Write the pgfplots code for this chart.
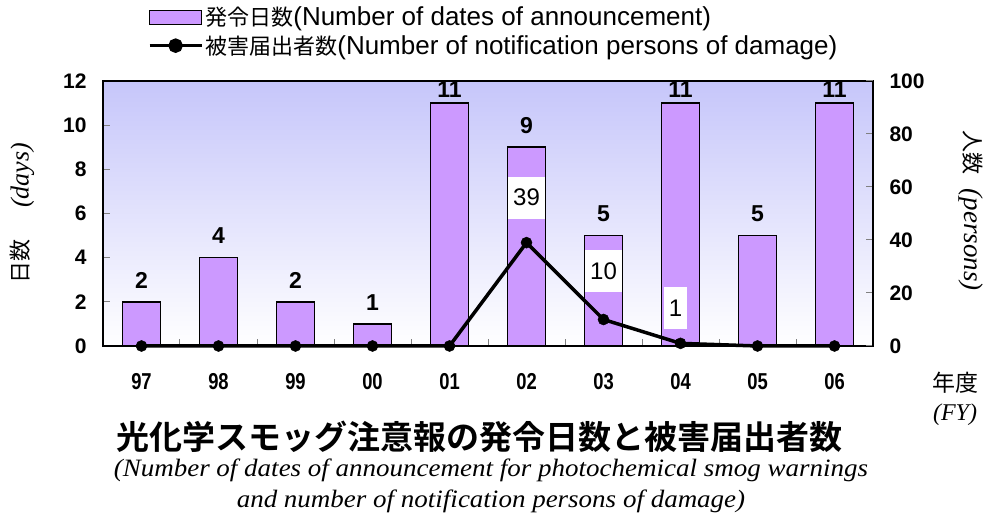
\documentclass[border=0pt]{standalone}
\usepackage{fontspec}
\setmainfont{Liberation Sans}
\newfontfamily\cjk{Noto Sans CJK JP}[BoldFont={Noto Sans CJK JP Bold}]
\newfontfamily\tm{Liberation Serif}[FakeStretch=1.08]
\newfontfamily\tmn{Liberation Serif}
\newfontfamily\nar{Liberation Sans}[FakeStretch=0.8]
\usepackage{pgfplots}
\usepackage{pgfplotstable}
\pgfplotsset{compat=1.18}

\definecolor{barfill}{RGB}{204,153,255}
\definecolor{bgtop}{RGB}{198,198,250}
\newcommand{\fs}[1]{\fontsize{#1}{#1}\selectfont}

% fiscal year index, days with warnings, persons reporting damage
\pgfplotstableread{
x days persons
0 2  0
1 4  0
2 2  0
3 1  0
4 11 0
5 9  39
6 5  10
7 11 1
8 5  0
9 11 0
}\smog

\begin{document}
\begin{tikzpicture}
\useasboundingbox (-103pt,-173pt) rectangle (883pt,346pt);

\begin{axis}[
    at={(0pt,0pt)}, anchor=south west,
    scale only axis, width=770pt, height=265pt,
    xmin=-0.5, xmax=9.5, ymin=0, ymax=12,
    clip=false,
    axis background/.style={top color=bgtop, bottom color=white},
    axis line style={line width=2pt},
    xtick={-0.5,0.5,...,9.5},
    x tick label as interval,
    xticklabels={97,98,99,00,01,02,03,04,05,06},
    ytick={0,2,...,12},
    xtick pos=bottom, ytick pos=left,
    tick align=inside, major tick length=7pt,
    tick style={line width=1pt},
    /pgf/number format/assume math mode=true,
    xticklabel style={font=\nar\bfseries\fs{23}, yshift=-24pt},
    yticklabel style={font=\bfseries\fs{21}, xshift=-13pt},
    ylabel={{\cjk\fs{22}日数}\hspace{32pt}{\tmn\itshape\fs{26}(days)}},
    ylabel style={at={(axis description cs:-0.105,0.5)}, anchor=center},
]
\addplot[ybar, bar width=38pt, fill=barfill, draw=black, line width=1.5pt,
    visualization depends on={ifthenelse(\thisrow{days}>10,3,11)\as\lshift},
    nodes near coords,
    every node near coord/.append style={font=\bfseries\fs{23}, black,
        anchor=south, inner sep=2pt, yshift=\lshift pt}]
    table[x=x, y=days] {\smog};
\end{axis}

\begin{axis}[
    at={(0pt,0pt)}, anchor=south west,
    scale only axis, width=770pt, height=265pt,
    xmin=-0.5, xmax=9.5, ymin=0, ymax=100,
    clip=false,
    axis x line=none, axis y line*=right,
    axis line style={line width=2pt, -},
    ytick={0,20,...,100},
    tick align=inside, major tick length=7pt,
    tick style={line width=1pt},
    /pgf/number format/assume math mode=true,
    yticklabel style={font=\bfseries\fs{21}, xshift=13pt},
    ylabel={{\cjk\fs{22}人数}\hspace{14pt}{\tmn\itshape\fs{27}(persons)}},
    ylabel style={at={(axis description cs:1.127,0.51)}, anchor=center, rotate=180},
    legend style={at={(0.058,1.287)}, anchor=north west, draw=none, fill=none,
        inner sep=0pt, row sep=4pt, font=\fs{26}, cells={anchor=west}},
]
\addlegendimage{legend image code/.code={
    \draw[fill=barfill, draw=black, line width=1.5pt] (0pt,-7pt) rectangle (52pt,7pt);}}
\addlegendentry{{\cjk\fs{22}発令日数}(Number of dates of announcement)}
\addplot[black, line width=3.5pt, mark=*, mark size=5.5pt, mark options={line width=0.5pt},
    legend image code/.code={
        \draw[black, line width=3.5pt] (0pt,0pt) -- (52pt,0pt);
        \fill[black] (26pt,0pt) circle (5.5pt);}]
    table[x=x, y=persons] {\smog};
\addlegendentry{{\cjk\fs{22}被害届出者数}(Number of notification persons of damage)}

\node[fill=white, font=\fs{24}, minimum height=42pt, inner xsep=5pt, yshift=45pt] at (axis cs:5,39) {39};
\node[fill=white, font=\fs{24}, minimum height=42pt, inner xsep=5pt, yshift=48pt] at (axis cs:6,10) {10};
\node[fill=white, font=\fs{24}, minimum height=42pt, inner xsep=5pt, yshift=35pt, xshift=-5pt] at (axis cs:7,1) {1};
\end{axis}

\node[font=\cjk\fs{23}] at (852pt,-37pt) {年度};
\node[font=\tmn\itshape\fs{24}] at (852pt,-69pt) {(FY)};
\node[font=\cjk\bfseries\fs{33}] at (377pt,-91pt) {光化学スモッグ注意報の発令日数と被害届出者数};
\node[font=\tm\itshape\fontsize{25}{31}\selectfont, align=center] at (388pt,-140pt)
    {(Number of dates of announcement for photochemical smog warnings\\
     and number of notification persons of damage)};
\end{tikzpicture}
\end{document}
